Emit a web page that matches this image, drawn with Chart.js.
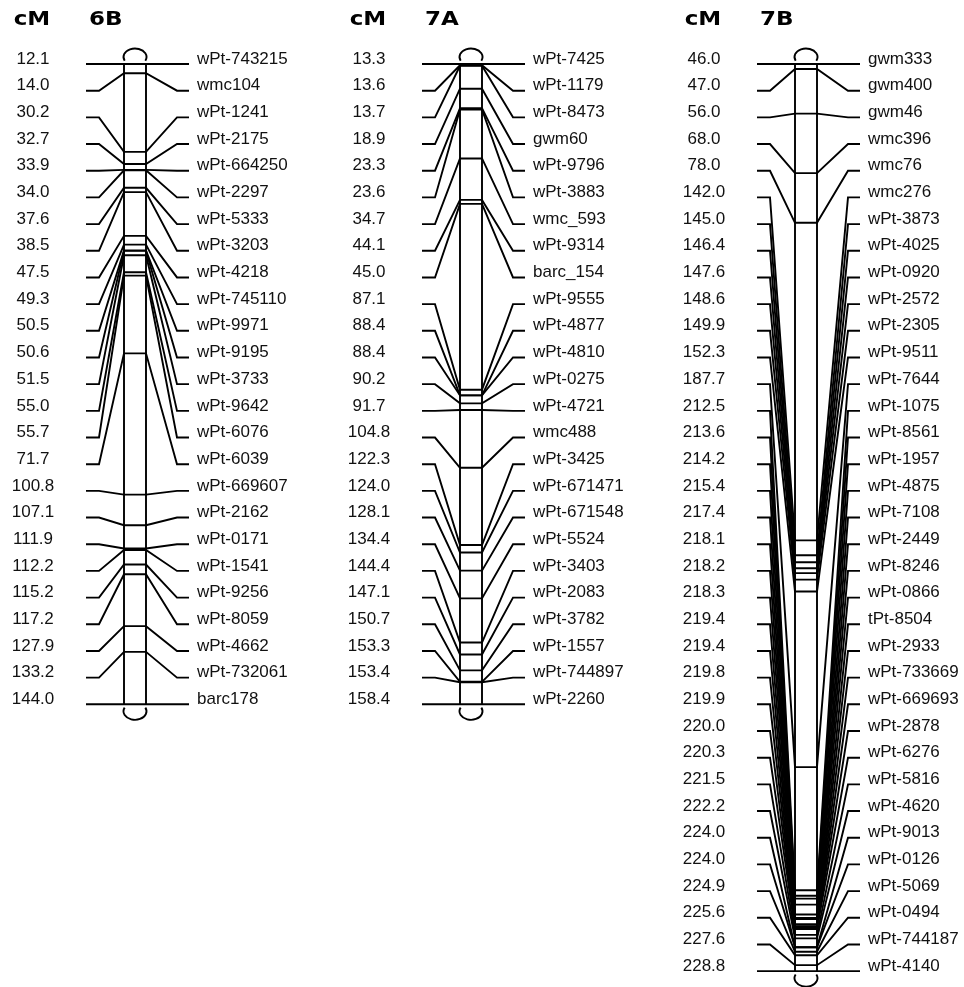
<!DOCTYPE html>
<html>
<head>
<meta charset="utf-8">
<title>Linkage map 6B / 7A / 7B</title>
<script src="https://cdn.jsdelivr.net/npm/chart.js@4.4.0/dist/chart.umd.min.js"></script>
<style>
  body { margin: 0; background: #fff; }
  #wrap { width: 964px; height: 987px; }
</style>
</head>
<body>
<div id="wrap"><canvas id="myChart" width="964" height="987"></canvas></div>
<script>
// marker positions (cM) and names, top to bottom
var cm6B = [12.1, 14.0, 30.2, 32.7, 33.9, 34.0, 37.6, 38.5, 47.5, 49.3, 50.5, 50.6, 51.5,
  55.0, 55.7, 71.7, 100.8, 107.1, 111.9, 112.2, 115.2, 117.2, 127.9, 133.2, 144.0];
var markers6B = ["wPt-743215", "wmc104", "wPt-1241", "wPt-2175", "wPt-664250", "wPt-2297",
  "wPt-5333", "wPt-3203", "wPt-4218", "wPt-745110", "wPt-9971", "wPt-9195", "wPt-3733",
  "wPt-9642", "wPt-6076", "wPt-6039", "wPt-669607", "wPt-2162", "wPt-0171", "wPt-1541",
  "wPt-9256", "wPt-8059", "wPt-4662", "wPt-732061", "barc178"];

var cm7A = [13.3, 13.6, 13.7, 18.9, 23.3, 23.6, 34.7, 44.1, 45.0, 87.1, 88.4, 88.4, 90.2,
  91.7, 104.8, 122.3, 124.0, 128.1, 134.4, 144.4, 147.1, 150.7, 153.3, 153.4, 158.4];
var markers7A = ["wPt-7425", "wPt-1179", "wPt-8473", "gwm60", "wPt-9796", "wPt-3883",
  "wmc_593", "wPt-9314", "barc_154", "wPt-9555", "wPt-4877", "wPt-4810", "wPt-0275",
  "wPt-4721", "wmc488", "wPt-3425", "wPt-671471", "wPt-671548", "wPt-5524", "wPt-3403",
  "wPt-2083", "wPt-3782", "wPt-1557", "wPt-744897", "wPt-2260"];

var cm7B = [46.0, 47.0, 56.0, 68.0, 78.0, 142.0, 145.0, 146.4, 147.6, 148.6, 149.9, 152.3,
  187.7, 212.5, 213.6, 214.2, 215.4, 217.4, 218.1, 218.2, 218.3, 219.4, 219.4, 219.8, 219.9,
  220.0, 220.3, 221.5, 222.2, 224.0, 224.0, 224.9, 225.6, 227.6, 228.8];
var markers7B = ["gwm333", "gwm400", "gwm46", "wmc396", "wmc76", "wmc276", "wPt-3873",
  "wPt-4025", "wPt-0920", "wPt-2572", "wPt-2305", "wPt-9511", "wPt-7644", "wPt-1075",
  "wPt-8561", "wPt-1957", "wPt-4875", "wPt-7108", "wPt-2449", "wPt-8246", "wPt-0866",
  "tPt-8504", "wPt-2933", "wPt-733669", "wPt-669693", "wPt-2878", "wPt-6276", "wPt-5816",
  "wPt-4620", "wPt-9013", "wPt-0126", "wPt-5069", "wPt-0494", "wPt-744187", "wPt-4140"];

var chromNames = ["6B", "7A", "7B"];

// layout in pixels
var W = 964, H = 987;
var rowTop = 64, rowStep = 26.68;
var barLeft = [124, 460, 795];
var barW = 22;
var lineW = 1.9;

var chroms = [
  { name: chromNames[0], cm: cm6B, markers: markers6B, left: barLeft[0] },
  { name: chromNames[1], cm: cm7A, markers: markers7A, left: barLeft[1] },
  { name: chromNames[2], cm: cm7B, markers: markers7B, left: barLeft[2] }
];

// the chromosome bar spans the same height as the label rows
function cmToRow(c, cm) {
  var first = cm[0], last = cm[cm.length - 1];
  return (c - first) / (last - first) * (cm.length - 1);
}

function lineSet(points) {
  return {
    data: points,
    showLine: true,
    borderColor: "#000",
    borderWidth: lineW,
    pointRadius: 0,
    tension: 0,
    fill: false
  };
}

var datasets = [];
chroms.forEach(function (ch) {
  var L = ch.left, R = ch.left + barW;
  ch.cm.forEach(function (c, i) {
    var r = cmToRow(c, ch.cm);
    datasets.push(lineSet([
      { x: L - 38, y: i }, { x: L - 25, y: i },
      { x: L, y: r }, { x: R, y: r },
      { x: R + 31, y: i }, { x: R + 43, y: i }
    ]));
  });
  var last = ch.cm.length - 1;
  datasets.push(lineSet([{ x: L, y: 0 }, { x: L, y: last }]));
  datasets.push(lineSet([{ x: R, y: 0 }, { x: R, y: last }]));
});

// end caps, titles and labels
var mapLabels = {
  id: "mapLabels",
  afterDatasetsDraw: function (chart) {
    var ctx = chart.ctx;
    var xs = chart.scales.x, ys = chart.scales.y;
    ctx.save();
    chroms.forEach(function (ch) {
      var xL = xs.getPixelForValue(ch.left);
      var xR = xs.getPixelForValue(ch.left + barW);
      var xc = (xL + xR) / 2;
      var yTop = ys.getPixelForValue(0);
      var yBot = ys.getPixelForValue(ch.cm.length - 1);

      ctx.strokeStyle = "#000";
      ctx.lineWidth = lineW;
      ctx.beginPath();
      ctx.ellipse(xc, yTop - 7, 11.5, 8.5, 0, Math.PI - 0.45, 0.45);
      ctx.stroke();
      ctx.beginPath();
      ctx.ellipse(xc, yBot + 7, 11.5, 8.5, 0, -0.45, Math.PI + 0.45);
      ctx.stroke();

      // titles
      ctx.fillStyle = "#000";
      ctx.font = "bold 20px 'DejaVu Sans'";
      ctx.textBaseline = "middle";
      ctx.save();
      ctx.translate(xL - 92, 20);
      ctx.scale(1.15, 1);
      ctx.textAlign = "center";
      ctx.fillText("cM", 0, 0);
      ctx.restore();
      ctx.save();
      ctx.translate(xL - 35, 20);
      ctx.scale(1.15, 1);
      ctx.textAlign = "left";
      ctx.fillText(ch.name, 0, 0);
      ctx.restore();

      // row labels
      ctx.fillStyle = "#111";
      ctx.font = "17px 'Liberation Sans'";
      ch.cm.forEach(function (c, i) {
        var y = ys.getPixelForValue(i) - 5;
        ctx.textAlign = "center";
        ctx.fillText(c.toFixed(1), xL - 91, y);
        ctx.textAlign = "left";
        ctx.fillText(ch.markers[i], xR + 51, y);
      });
    });
    ctx.restore();
  }
};

new Chart("myChart", {
  type: "scatter",
  data: { datasets: datasets },
  options: {
    responsive: false,
    animation: false,
    events: [],
    layout: { padding: 0, autoPadding: false },
    plugins: { legend: { display: false }, tooltip: { enabled: false } },
    scales: {
      x: { type: "linear", display: false, min: 0, max: W },
      y: { type: "linear", display: false, reverse: true,
           min: -rowTop / rowStep, max: (H - rowTop) / rowStep }
    }
  },
  plugins: [mapLabels]
});
</script>
</body>
</html>
